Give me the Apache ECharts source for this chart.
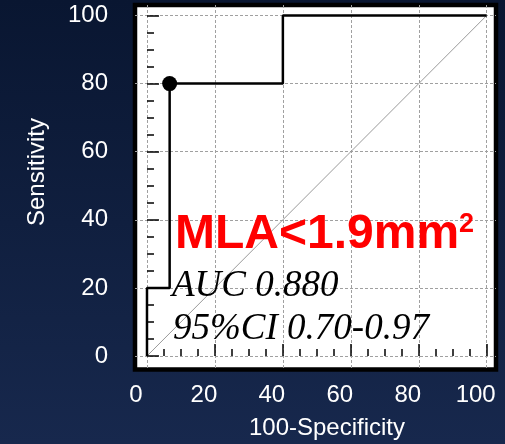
<!DOCTYPE html>
<html>
<head>
<meta charset="utf-8">
<script src="https://cdn.jsdelivr.net/npm/echarts@6/dist/echarts.min.js"></script>
<style>
  html, body { margin: 0; padding: 0; }
  #chart { width: 505px; height: 444px; }
</style>
</head>
<body>
<div id="chart"></div>
<script>
// ROC curve for MLA < 1.9 mm²
const rocSpec = [0, 0, 6.67, 6.67, 40, 40, 100];      // 100 - Specificity
const rocSens = [0, 20, 20, 80, 80, 100, 100];        // Sensitivity
const criterionPoint = [6.67, 80];                    // optimal cut-off
const diagonal = [[0, 0], [100, 100]];                // chance line

const majorTicks = [0, 20, 40, 60, 80, 100];
const minorTicks = [0, 5, 10, 15, 20, 25, 30, 35, 40, 45, 50, 55, 60, 65, 70, 75, 80, 85, 90, 95, 100];

const titleText = 'MLA<1.9mm';
const titleSup = '2';
const aucText = 'AUC 0.880';
const ciText = '95%CI 0.70-0.97';
const xName = '100-Specificity';
const yName = 'Sensitivity';

// axis ranges leave a margin between the frame and the 0–100 plot region
const xRange = { min: -3.53, max: 102.74 };
const yRange = { min: -3.96, max: 103.08 };

const sans = '"Liberation Sans", Arial, sans-serif';
const serif = '"Liberation Serif", "Times New Roman", serif';

const chart = echarts.init(document.getElementById('chart'), null, { renderer: 'canvas' });

function majorAxis(pos, range, labelOpts) {
  return {
    type: 'value', position: pos, min: range.min, max: range.max,
    axisLine: { show: false },
    axisTick: { show: true, inside: true, length: 12, customValues: majorTicks,
      lineStyle: { color: '#000', width: 1.5 } },
    axisLabel: Object.assign({ customValues: majorTicks, color: '#fff', fontSize: 24,
      fontFamily: sans }, labelOpts),
    splitLine: { show: true, lineStyle: { color: '#a0a0a0', width: 1, type: [3, 2] } }
  };
}
function minorAxis(pos, range) {
  return {
    type: 'value', position: pos, min: range.min, max: range.max,
    axisLine: { show: false },
    axisTick: { show: true, inside: true, length: 7, customValues: minorTicks,
      lineStyle: { color: '#000', width: 1.5 } },
    axisLabel: { show: false },
    splitLine: { show: false }
  };
}

const option = {
  animation: false,
  backgroundColor: {
    type: 'linear', x: 0, y: 0, x2: 0, y2: 1,
    colorStops: [{ offset: 0, color: '#091631' }, { offset: 1, color: '#17284d' }]
  },
  grid: {
    left: 135, top: 5, width: 361, height: 364.5,
    show: true, backgroundColor: '#ffffff', borderColor: '#000000', borderWidth: 4.5
  },
  xAxis: [
    majorAxis('bottom', xRange, { margin: 14, padding: [0, 22, 0, 0] }),
    minorAxis('bottom', xRange)
  ],
  yAxis: [
    majorAxis('left', yRange, { margin: 27 }),
    minorAxis('left', yRange)
  ],
  series: [
    {
      type: 'line', data: diagonal, symbol: 'none', silent: true,
      lineStyle: { color: '#9a9a9a', width: 1 }, z: 2
    },
    {
      type: 'line', data: rocSpec.map((v, i) => [v, rocSens[i]]), symbol: 'none',
      lineStyle: { color: '#000', width: 2.5 }, z: 3
    },
    {
      type: 'scatter', data: [criterionPoint], symbol: 'circle', symbolSize: 15,
      itemStyle: { color: '#000', opacity: 1 }, z: 4
    }
  ],
  graphic: [
    {
      type: 'text', x: 175, y: 235, z: 10,
      style: {
        text: '{a|' + titleText + '}{s|' + titleSup + '}',
        verticalAlign: 'middle', align: 'left',
        rich: {
          a: { fontSize: 48, fontWeight: 'bold', fontFamily: sans, fill: '#ff0000' },
          s: { fontSize: 27, fontWeight: 'bold', fontFamily: sans, fill: '#ff0000', verticalAlign: 'top' }
        }
      }
    },
    {
      type: 'text', x: 172, y: 286, z: 10,
      style: { text: aucText, font: 'italic 37px ' + serif, fill: '#000',
        verticalAlign: 'middle', align: 'left' }
    },
    {
      type: 'text', x: 173, y: 329, z: 10,
      style: { text: ciText, font: 'italic 37px ' + serif, fill: '#000',
        verticalAlign: 'middle', align: 'left' }
    },
    {
      type: 'text', x: 327, y: 428, z: 10,
      style: { text: xName, font: '24px ' + sans, fill: '#fff',
        verticalAlign: 'middle', align: 'center' }
    },
    {
      type: 'text', x: 37, y: 172, rotation: Math.PI / 2, z: 10,
      style: { text: yName, font: '24px ' + sans, fill: '#fff',
        verticalAlign: 'middle', align: 'center' }
    }
  ]
};

chart.setOption(option);
</script>
</body>
</html>
